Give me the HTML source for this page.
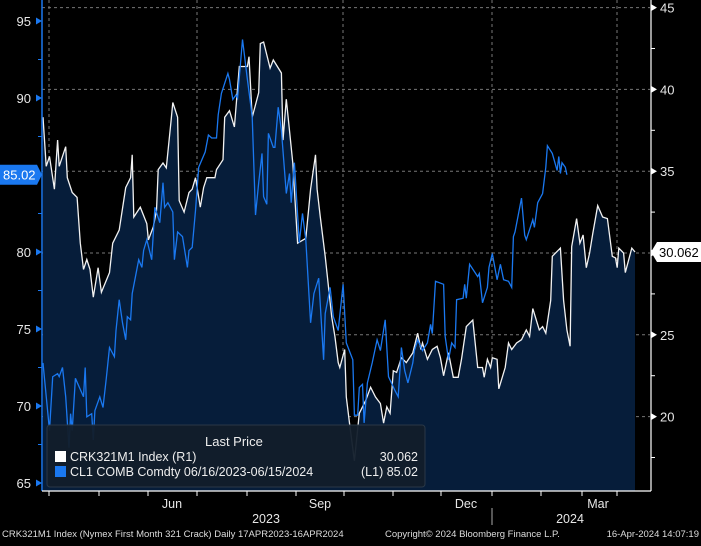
<!DOCTYPE html>
<html><head><meta charset="utf-8">
<style>
html,body{margin:0;padding:0;background:#000;}
body{width:701px;height:541px;overflow:hidden;font-family:"Liberation Sans",sans-serif;}
svg text{font-family:"Liberation Sans",sans-serif;}
</style></head>
<body>
<svg id="chart" width="701" height="541" viewBox="0 0 701 541" xmlns="http://www.w3.org/2000/svg">
<rect x="0" y="0" width="701" height="541" fill="#000"/>
<g id="grid"></g>
<path id="area" fill="#061d3a"/>
<path id="crkLine" fill="none" stroke="#f2f2f2" stroke-width="1.3"/>
<path id="clLine" fill="none" stroke="#1a78f0" stroke-width="1.3"/>
<g id="axes"></g>
<g>
<rect x="47" y="425" width="378" height="62" rx="3" fill="#121e2b" stroke="#2c3a48" stroke-width="1" opacity="0.95"/>
<text x="205" y="446" fill="#eee" font-size="13">Last Price</text>
<rect x="55" y="451" width="11" height="11" fill="#fff"/>
<text x="70" y="461" fill="#eee" font-size="12.5">CRK321M1 Index  (R1)</text>
<text x="418" y="461" fill="#eee" font-size="12.5" text-anchor="end">30.062</text>
<rect x="55" y="466" width="11" height="11" fill="#1a78f0"/>
<text x="70" y="476" fill="#eee" font-size="12.5">CL1 COMB Comdty 06/16/2023-06/15/2024</text>
<text x="418" y="476" fill="#eee" font-size="12.5" text-anchor="end">(L1) 85.02</text>
</g>
<g>
<text x="2" y="537" fill="#ddd" font-size="9.5">CRK321M1 Index (Nymex First Month 321 Crack)  Daily 17APR2023-16APR2024</text>
<text x="385" y="537" fill="#ddd" font-size="9.5">Copyright© 2024 Bloomberg Finance L.P.</text>
<text x="699" y="537" fill="#ddd" font-size="9.5" text-anchor="end">16-Apr-2024 14:07:19</text>
</g>
</svg>
<script>
const crkDays=[0,2,4,7,9,10,14,15,18,21,23,25,27,29,31,34,36,41,43,47,51,54,55,56,60,64,65,68,70,71,74,76,79,80,83,84,87,90,92,94,97,99,101,106,107,111,112,115,118,121,126,127,129,133,134,136,140,142,147,148,150,154,157,162,165,168,169,171,174,178,180,182,183,186,187,189,192,195,199,202,205,208,210,212,214,216,218,221,224,228,231,233,234,237,240,243,245,247,250,253,256,258,261,265,268,271,272,274,276,277,280,281,285,287,289,292,295,298,300,302,306,308,310,313,314,319,321,323,325,326,329,331,333,335,337,339,342,345,348,351,353,354,355,358,359,363,365];
const crkVals=[38.3,35.3,35.9,33.9,36.9,35.3,36.5,34.6,33.7,33.4,30.6,29.0,29.6,29.0,27.3,29.1,27.6,28.8,30.6,31.4,34.0,34.6,36.0,32.2,32.8,31.8,30.8,31.6,32.6,35.1,35.5,35.2,38.1,39.2,38.3,33.2,32.5,33.7,33.9,34.6,32.8,34.0,34.6,34.6,35.1,35.7,38.3,38.7,37.7,41.4,41.4,42.0,38.3,39.8,42.8,42.9,41.3,41.8,41.0,36.9,39.4,35.5,30.6,30.9,33.9,36.0,33.9,32.2,29.8,26.1,24.9,23.3,23.0,24.1,21.2,19.6,17.3,20.2,21.0,21.8,21.2,20.8,19.6,20.6,20.2,22.8,22.7,23.6,23.3,23.9,25.1,24.1,24.5,23.5,24.1,24.3,23.6,22.5,23.9,22.4,22.4,23.5,25.5,25.9,23.0,23.0,22.4,23.5,23.0,23.6,23.5,21.7,23.0,24.5,24.1,24.5,24.7,25.3,24.9,26.6,25.3,25.5,25.1,27.1,29.8,30.3,27.1,25.3,24.3,30.4,32.1,30.6,31.1,29.1,30.0,31.2,32.9,32.2,32.1,29.8,29.7,29.1,30.3,30.0,28.8,30.3,30.062];
const clDays=[0,4,6,9,10,12,14,16,17,18,20,25,26,27,30,31,32,35,37,39,41,44,45,47,49,51,52,54,55,59,61,62,64,67,68,69,72,74,75,77,80,81,83,86,89,90,92,94,96,100,102,104,107,108,110,114,115,117,119,120,123,126,129,131,133,135,136,138,139,142,143,145,147,150,152,153,155,158,160,162,165,167,170,173,174,177,179,182,185,187,191,192,194,195,197,198,200,203,206,208,211,213,217,219,221,223,225,228,229,231,234,237,239,240,242,247,248,250,252,254,255,259,260,261,263,268,269,271,274,275,277,280,282,284,287,289,290,291,295,297,298,302,303,305,308,310,311,314,317,318,319,320,322,323];
const clVals=[72.8,68.4,71.9,72.1,71.9,72.5,70.6,67.3,69.5,68.4,71.8,70.6,72.5,69.3,69.5,67.8,69.7,70.6,69.9,71.8,73.8,73.2,74.9,76.9,75.4,74.3,75.8,75.6,77.3,79.5,79.0,80.1,80.8,79.5,81.2,82.9,81.9,84.5,82.9,83.2,82.6,79.5,81.3,81.0,79.0,80.1,80.3,82.7,85.5,86.5,87.6,87.4,87.4,88.9,90.3,91.6,91.2,89.9,90.2,90.0,93.8,91.2,88.8,82.4,84.5,86.4,83.6,83.1,87.7,86.8,86.8,89.4,87.9,83.8,85.1,83.2,85.8,80.6,82.5,80.8,75.4,77.3,78.3,73.0,76.0,77.7,75.8,74.9,77.9,74.1,73.0,69.4,69.4,71.2,71.4,68.9,71.5,72.8,74.3,73.6,75.6,71.9,71.0,70.6,73.8,72.3,71.5,72.8,73.6,74.3,73.6,74.1,75.3,74.7,78.1,77.9,74.5,73.0,74.1,73.8,76.9,77.0,77.9,77.0,79.2,78.4,78.6,76.7,77.7,79.0,79.9,78.2,79.2,78.2,78.1,77.7,81.0,81.3,83.5,81.1,80.8,82.1,81.6,83.2,83.8,85.5,86.9,86.4,85.3,86.2,85.1,85.8,85.5,85.02];
const leftTicks=[95,90,80,75,70,65];
const rightTicks=[45,40,35,30,25,20];
const monthLabels=["Jun","Sep","Dec","Mar"];
const yearLabels=["2023","2024"];

const NS="http://www.w3.org/2000/svg";
const X0=43,X1=635,DAYS=365,BOTTOM=491;
function xs(d){return X0+d*(X1-X0)/DAYS;}
function yl(v){return 252-(v-80)*15.4;}
function yr(v){return 253-(v-30)*16.36;}
function mk(tag,attrs,parent){const e=document.createElementNS(NS,tag);for(const k in attrs)e.setAttribute(k,attrs[k]);parent.appendChild(e);return e;}

const grid=document.getElementById('grid');
[45,40,35,30,25,20].forEach(v=>{const l=mk('line',{x1:42,x2:650,y1:yr(v),y2:yr(v),stroke:'#777','stroke-dasharray':'3,3','stroke-width':1},grid);

});
[49,197,343,492,617].forEach(x=>{const l=mk('line',{x1:x,x2:x,y1:0,y2:BOTTOM,stroke:'#777','stroke-dasharray':'3,3','stroke-width':1},grid);

});

let d='',a='';
crkDays.forEach((dd,i)=>{const p=xs(dd).toFixed(1)+','+yr(crkVals[i]).toFixed(1);d+=(i?'L':'M')+p;a+='L'+p;});
document.getElementById('crkLine').setAttribute('d',d);
document.getElementById('area').setAttribute('d','M'+xs(crkDays[0])+','+BOTTOM+a+'L'+xs(crkDays[crkDays.length-1])+','+BOTTOM+'Z');
let c='';
clDays.forEach((dd,i)=>{c+=(i?'L':'M')+xs(dd).toFixed(1)+','+yl(clVals[i]).toFixed(1);});
document.getElementById('clLine').setAttribute('d',c);

const ax=document.getElementById('axes');
let e;
e=mk('line',{x1:42,x2:42,y1:0,y2:BOTTOM,stroke:'#1a78f0','stroke-width':1.5},ax);


e=mk('line',{x1:651,x2:651,y1:0,y2:BOTTOM,stroke:'#fff','stroke-width':1.2},ax);


e=mk('line',{x1:42,x2:651,y1:BOTTOM,y2:BOTTOM,stroke:'#fff','stroke-width':1.2},ax);


for(let v=65;v<=97.5;v+=2.5){const y=yl(v);const maj=v%5===0;
 if(maj){e=mk('path',{d:`M42,${y}L36,${y-3.5}L36,${y+3.5}Z`,fill:'#1a78f0'},ax);}else{e=mk('line',{x1:38,x2:42,y1:y,y2:y,stroke:'#1a78f0'},ax);}
 
 }
leftTicks.forEach(v=>{e=mk('text',{x:31,y:yl(v)+5,fill:'#e6e6e6','font-size':13,'text-anchor':'end'},ax);e.textContent=v;

});
for(let v=17.5;v<=45;v+=2.5){const y=yr(v);const maj=v%5===0;
 if(maj){e=mk('path',{d:`M657,${y}L651,${y-3.5}L651,${y+3.5}Z`,fill:'#fff'},ax);}else{e=mk('line',{x1:651,x2:655,y1:y,y2:y,stroke:'#fff'},ax);}
 
 }
rightTicks.forEach(v=>{if(v===30)return;e=mk('text',{x:660,y:yr(v)+5,fill:'#e6e6e6','font-size':13},ax);e.textContent=v;

});
[49,99,148,197,247,296,344,393,441,492,541,582,617].forEach(x=>{e=mk('line',{x1:x,x2:x,y1:BOTTOM,y2:BOTTOM+5,stroke:'#fff'},ax);

});
[172,320,466,598].forEach((x,i)=>{e=mk('text',{x:x,y:508,fill:'#e6e6e6','font-size':12.5,'text-anchor':'middle'},ax);e.textContent=monthLabels[i];

});
[266,570].forEach((x,i)=>{e=mk('text',{x:x,y:523,fill:'#e6e6e6','font-size':12.5,'text-anchor':'middle'},ax);e.textContent=yearLabels[i];

});
e=mk('line',{x1:492,x2:492,y1:508,y2:525,stroke:'#aaa'},ax);



const lastCl=clVals[clVals.length-1], lastCrk=crkVals[crkVals.length-1];
let yb=yl(lastCl);
e=mk('path',{d:`M0,${yb-10}L37,${yb-10}L42,${yb}L37,${yb+10}L0,${yb+10}Z`,fill:'#1a78f0'},ax);


e=mk('text',{x:3,y:yb+5,fill:'#fff','font-size':13},ax);e.textContent=lastCl.toFixed(2);


yb=yr(lastCrk);
e=mk('path',{d:`M651,${yb}L657,${yb-10}L701,${yb-10}L701,${yb+10}L657,${yb+10}Z`,fill:'#fff'},ax);


e=mk('text',{x:659,y:yb+5,fill:'#000','font-size':13},ax);e.textContent=lastCrk.toFixed(3);


</script>
</body></html>
